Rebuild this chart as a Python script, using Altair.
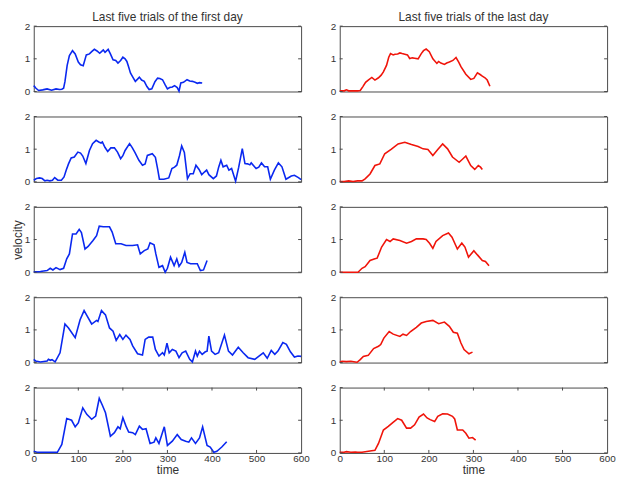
import altair as alt
import pandas as pd

# (time, velocity) samples
first_day_1 = [(0,0.18),(5,0.1),(11,0.03),(20,0.05),(30,0.08),(40,0.04),(50,0.08),(58,0.06),(63,0.07),(67,0.1),
               (70,0.3),(75,0.8),(80,1.1),(87,1.25),(93,1.15),(100,0.9),(105,0.82),(111,0.79),(118,1.12),(125,1.15),
               (130,1.22),(136,1.29),(142,1.24),(148,1.17),(152,1.22),(156,1.27),(160,1.2),(167,1.29),(172,1.15),(178,0.97),
               (184,0.95),(189,0.87),(195,0.95),(200,1.05),(205,1.0),(209,0.92),(213,0.75),(217,0.57),(222,0.45),(228,0.31),
               (233,0.38),(237,0.44),(242,0.35),(248,0.31),(254,0.15),(259,0.06),(265,0.08),(272,0.3),(278,0.41),(283,0.4),
               (289,0.36),(295,0.2),(300,0.08),(305,0.12),(311,0.14),(316,0.18),(322,0.12),(326,0.01),(330,0.26),(336,0.28),
               (344,0.36),(350,0.32),(356,0.31),(362,0.28),(367,0.25),(372,0.27),(378,0.26)]
first_day_2 = [(0,0.05),(6,0.1),(13,0.12),(19,0.1),(25,0.03),(30,0.05),(36,0.03),(42,0.05),(47,0.13),(54,0.05),
               (62,0.05),(68,0.15),(73,0.36),(78,0.55),(84,0.73),(91,0.76),(99,0.91),(105,0.88),(110,0.79),(117,0.56),
               (125,0.96),(132,1.17),(140,1.27),(146,1.22),(151,1.19),(154,1.22),(160,1.05),(166,0.93),(173,1.04),(181,1.04),
               (188,0.91),(195,0.71),(200,0.8),(205,0.96),(215,1.17),(221,1.05),(227,0.9),(236,0.66),(244,0.51),(250,0.55),
               (255,0.81),(266,0.86),(273,0.75),(278,0.4),(282,0.08),(292,0.08),(303,0.12),(310,0.41),(316,0.45),(321,0.51),
               (327,0.8),(332,1.1),(338,0.9),(345,0.1),(351,0.25),(358,0.25),(364,0.51),(371,0.38),(377,0.22),(383,0.3),
               (388,0.36),(393,0.22),(403,0.1),(410,0.18),(415,0.45),(420,0.66),(425,0.46),(433,0.51),(438,0.36),(444,0.41),
               (453,0.02),(460,0.45),(468,1.02),(474,0.56),(480,0.55),(485,0.52),(488,0.58),(499,0.41),(505,0.45),(511,0.58),
               (518,0.46),(525,0.46),(531,0.08),(540,0.36),(549,0.58),(557,0.46),(566,0.08),(578,0.18),(585,0.2),(594,0.13),
               (600,0.07)]
first_day_3 = [(0,0.01),(15,0.02),(30,0.05),(37,0.12),(43,0.07),(50,0.14),(59,0.08),(67,0.12),(74,0.41),(80,0.56),
               (87,1.17),(95,1.17),(102,1.31),(107,1.21),(115,0.71),(122,0.79),(133,0.97),(141,1.12),(147,1.41),(156,1.39),
               (170,1.39),(176,1.23),(184,0.87),(196,0.87),(207,0.82),(222,0.82),(233,0.84),(239,0.56),(248,0.66),(256,0.71),
               (261,0.9),(270,0.84),(274,0.56),(281,0.15),(289,0.2),(295,0.0),(300,0.12),(307,0.46),(315,0.2),(321,0.41),
               (326,0.18),(332,0.3),(339,0.61),(344,0.3),(352,0.26),(359,0.26),(367,0.26),(374,0.05),(381,0.07),(389,0.36)]
first_day_4 = [(0,0.1),(4,0.05),(15,0.02),(30,0.05),(33,0.1),(37,0.07),(41,0.09),(48,0.02),(59,0.3),(70,1.18),
               (78,1.06),(93,0.76),(104,1.31),(113,1.59),(120,1.42),(130,1.18),(141,1.29),(144,1.26),(152,1.59),(161,1.46),
               (170,1.06),(178,0.96),(185,0.68),(193,0.86),(200,0.71),(207,0.84),(216,0.71),(222,0.51),(233,0.27),(244,0.23),
               (250,0.71),(258,0.78),(267,0.78),(273,0.4),(281,0.2),(289,0.3),(293,0.23),(299,0.59),(304,0.3),(311,0.4),
               (319,0.35),(326,0.15),(333,0.3),(341,0.35),(350,0.1),(356,0.02),(363,0.35),(367,0.2),(372,0.35),(378,0.25),
               (385,0.33),(389,0.35),(393,0.81),(399,0.35),(407,0.25),(415,0.3),(428,0.84),(437,0.35),(446,0.23),(459,0.47),
               (470,0.3),(481,0.15),(496,0.1),(515,0.3),(524,0.13),(533,0.37),(541,0.25),(548,0.35),(559,0.61),(567,0.56),
               (576,0.33),(585,0.17),(593,0.2),(600,0.19)]
first_day_5 = [(0,0.05),(7,0.02),(20,0.02),(40,0.02),(53,0.02),(63,0.26),(74,1.05),(85,1.0),(93,0.8),(100,0.92),
               (110,1.38),(119,1.18),(130,1.03),(139,1.13),(147,1.67),(154,1.46),(161,1.23),(172,0.51),(181,0.62),(189,0.8),
               (194,0.74),(200,1.08),(207,0.82),(213,0.64),(222,0.62),(228,0.56),(237,0.82),(244,0.72),(252,0.74),(261,0.29),
               (270,0.33),(274,0.46),(281,0.29),(293,0.8),(300,0.23),(311,0.36),(322,0.56),(331,0.41),(341,0.36),(348,0.33),
               (354,0.46),(363,0.29),(372,0.46),(379,0.8),(389,0.23),(396,0.18),(404,0.02),(411,0.05),(422,0.18),(433,0.34)]

last_day_1 = [(0,0.02),(10,0.02),(15,0.05),(20,0.02),(30,0.02),(40,0.02),(46,0.03),(52,0.15),(58,0.28),(64,0.35),
              (72,0.43),(79,0.35),(87,0.42),(93,0.5),(98,0.6),(105,0.8),(110,1.05),(114,1.16),(120,1.12),(124,1.14),
              (130,1.15),(135,1.18),(140,1.16),(146,1.14),(152,1.12),(157,1.01),(163,1.03),(168,1.02),(176,1.0),(183,1.16),
              (188,1.25),(194,1.3),(201,1.22),(209,1.0),(218,0.86),(222,0.92),(227,0.87),(235,0.83),(240,0.87),(246,0.9),
              (254,0.95),(261,1.04),(267,0.9),(272,0.76),(283,0.53),(294,0.37),(301,0.4),(309,0.57),(315,0.52),(320,0.47),
              (326,0.42),(331,0.35),(337,0.16)]
last_day_2 = [(0,0.01),(10,0.01),(20,0.03),(30,0.01),(40,0.03),(50,0.03),(57,0.09),(68,0.24),(79,0.5),(90,0.55),
              (101,0.86),(116,1.0),(131,1.16),(146,1.21),(161,1.14),(176,1.08),(187,1.01),(198,0.99),(209,0.81),(220,0.99),
              (231,1.16),(242,1.01),(253,0.76),(268,0.6),(276,0.7),(283,0.79),(294,0.5),(303,0.38),(311,0.5),(316,0.45),
              (320,0.38)]
last_day_3 = [(0,0.0),(20,0.0),(41,0.0),(50,0.12),(57,0.17),(68,0.36),(79,0.41),(84,0.43),(94,0.77),(105,1.0),
              (113,0.94),(120,1.02),(135,0.97),(150,0.89),(161,0.94),(172,1.02),(187,1.02),(194,1.0),(202,0.88),(209,0.73),
              (216,0.94),(231,1.12),(244,1.2),(252,1.07),(264,0.71),(274,0.89),(281,0.77),(289,0.46),(301,0.66),(309,0.53),
              (320,0.36),(327,0.33),(335,0.2)]
last_day_4 = [(0,0.01),(5,0.04),(15,0.03),(25,0.04),(35,0.02),(39,0.01),(46,0.09),(53,0.19),(64,0.22),(76,0.43),
              (87,0.5),(92,0.55),(99,0.75),(111,0.95),(120,0.87),(135,0.8),(142,0.87),(150,0.83),(159,0.95),(172,1.08),
              (183,1.21),(194,1.26),(209,1.29),(222,1.19),(235,1.24),(246,1.11),(255,0.93),(264,0.9),(272,0.6),(279,0.4),
              (290,0.27),(298,0.32)]
last_day_5 = [(0,0.02),(10,0.02),(15,0.04),(25,0.02),(35,0.03),(40,0.02),(50,0.02),(68,0.06),(79,0.08),(87,0.29),
              (98,0.7),(109,0.81),(119,0.93),(130,1.05),(139,1.0),(150,0.76),(159,0.76),(168,0.86),(178,1.1),(188,1.19),
              (196,1.07),(203,1.02),(213,0.96),(220,1.12),(231,1.2),(242,1.19),(253,1.12),(258,1.04),(264,0.7),(276,0.7),
              (283,0.6),(290,0.45),(298,0.47),(305,0.39)]

first_day = [first_day_1, first_day_2, first_day_3, first_day_4, first_day_5]
last_day = [last_day_1, last_day_2, last_day_3, last_day_4, last_day_5]
column_titles = ["Last five trials of the first day", "Last five trials of the last day"]
column_colors = ["#0a28f0", "#f0140a"]
x_ticks = [0, 100, 200, 300, 400, 500, 600]
y_ticks = [0, 1, 2]

W, H = 270, 66
BOX = "#4a4a4a"
FONT = "Liberation Sans"

xscale = alt.Scale(domain=[0, 600], nice=False, zero=False)
yscale = alt.Scale(domain=[0, 2], nice=False)


def panel(samples, color, row, col):
    df = pd.DataFrame(samples, columns=["time", "velocity"])
    bottom = row == 4
    if bottom:
        xenc = alt.X("time:Q", scale=xscale,
                     axis=alt.Axis(values=x_ticks, labelExpr="format(datum.value, '.0f')",
                                   title="time", labelOverlap=False, labelFlush=False,
                                   labelPadding=1, titlePadding=1))
    else:
        xenc = alt.X("time:Q", scale=xscale, axis=None)
    ytitle = "velocity" if (row == 2 and col == 0) else None
    yenc = alt.Y("velocity:Q", scale=yscale,
                 axis=alt.Axis(values=y_ticks, labelExpr="format(datum.value, '.0f')",
                               title=ytitle, labelOverlap=False, labelFlush=False,
                               labelBaseline="middle", labelPadding=4, titlePadding=0))

    line = alt.Chart(df).mark_line(color=color, strokeWidth=1.6, interpolate="linear").encode(
        x=xenc, y=yenc)

    ydf = pd.DataFrame({"velocity": y_ticks})
    lt = alt.Chart(ydf).mark_rule(color=BOX, strokeWidth=1).encode(
        y=yenc, x=alt.value(0), x2=alt.value(3))
    rt = alt.Chart(ydf).mark_rule(color=BOX, strokeWidth=1).encode(
        y=yenc, x=alt.value(W), x2=alt.value(W - 3))
    layers = [line, lt, rt]
    if bottom:
        xdf = pd.DataFrame({"time": x_ticks[1:-1]})
        bt = alt.Chart(xdf).mark_rule(color=BOX, strokeWidth=1).encode(
            x=xenc, y=alt.value(H), y2=alt.value(H - 3))
        tt = alt.Chart(xdf).mark_rule(color=BOX, strokeWidth=1).encode(
            x=xenc, y=alt.value(0), y2=alt.value(3))
        layers += [bt, tt]
    ch = alt.layer(*layers).properties(width=W, height=H)
    if row == 0:
        ch = ch.properties(title=alt.Title(column_titles[col], offset=-3))
    return ch


panels = []
for r in range(5):
    panels.append(panel(first_day[r], column_colors[0], r, 0))
    panels.append(panel(last_day[r], column_colors[1], r, 1))

chart = alt.concat(*panels, columns=2, spacing=alt.RowColnumber(row=25.25, column=39),
                   bounds="flush").properties(
    padding={"left": 2, "top": 0, "right": 0, "bottom": 0}
).configure_view(
    stroke=BOX, strokeWidth=1
).configure_axis(
    domain=False, ticks=False, grid=False,
    labelFont=FONT, labelFontSize=10, labelColor="#333333",
    titleFont=FONT, titleFontSize=12, titleFontWeight="normal", titleColor="#333333"
).configure_title(
    font=FONT, fontSize=12, fontWeight="normal", color="#333333", anchor="middle"
)

chart.save("out.html", embed_options={"renderer": "svg", "actions": False})
